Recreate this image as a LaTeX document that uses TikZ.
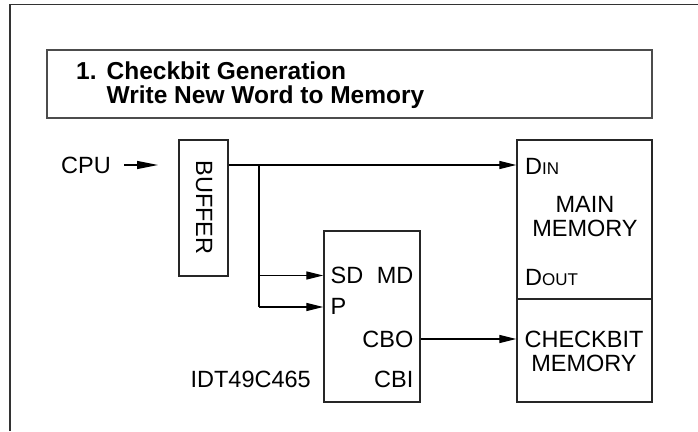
\documentclass[tikz,border=0pt]{standalone}
\usepackage{fontspec}
\setmainfont{Liberation Sans}
\usetikzlibrary{arrows.meta}
\begin{document}
\begin{tikzpicture}[x=1pt,y=-1pt,
  box/.style={draw=black!85,line width=1.3pt,inner sep=0pt},
  lbl/.style={inner sep=0pt,font=\fontsize{23.5}{24}\selectfont},
  conn/.style={line width=1.2pt,-{Triangle[length=17pt,width=8pt]}},
  wire/.style={line width=1.2pt}]
\useasboundingbox (0,0) rectangle (698,431);
% outer frame
\draw[line width=1.5pt,black!80] (10,431) -- (10,4.5) -- (698,4.5);
% title box
\node[box,draw=black!70,minimum width=605pt,minimum height=68pt] (title) at (349.5,84) {};
\node[lbl,anchor=west,align=left,font=\bfseries\fontsize{24.5}{24}\selectfont] (titletext) at (76,85)
  {1.\hspace{10pt}Checkbit Generation\\\hphantom{1.\hspace{10pt}}Write New Word to Memory};
% CPU
\node[lbl,anchor=west] (cpu) at (61,165) {CPU};
\coordinate (cputip) at (158,165);
\draw[conn,-{Triangle[length=21pt,width=8pt]}] ([xshift=13pt]cpu.east) -- (cputip);
% buffer
\node[box,minimum width=49pt,minimum height=136pt] (buf) at (203.5,208) {};
\node[lbl,rotate=-90] (buftext) at (204,207.5) {BUFFER};
% main memory
\node[box,minimum width=135pt,minimum height=159pt] (mm) at (584.5,219.5) {};
\node[lbl,anchor=west] (din) at (525,166) {D{\fontsize{17}{18}\selectfont IN}};
\node[lbl,align=center] (mmtext) at (585,217) {MAIN\\MEMORY};
\node[lbl,anchor=west] (dout) at (525,277) {D{\fontsize{17}{18}\selectfont OUT}};
% checkbit memory
\node[box,minimum width=135pt,minimum height=103pt] (cm) at (584.5,350.5) {};
\node[lbl,align=center] (cmtext) at (584,351) {CHECKBIT\\MEMORY};
% IDT
\node[box,minimum width=96pt,minimum height=171pt] (idt) at (372,316.5) {};
\node[lbl,anchor=west] (sd) at (330.5,275) {SD};
\node[lbl,anchor=east] (md) at (413.5,275) {MD};
\node[lbl,anchor=west] (p) at (330.5,306) {P};
\node[lbl,anchor=east] (cbo) at (413.5,339) {CBO};
\node[lbl,anchor=east] (cbi) at (413.5,379) {CBI};
\node[lbl,anchor=east] (idtname) at (311,379) {IDT49C465};
% connectors
\coordinate (br) at (259,165);
\coordinate (brsd) at (259,275.5);
\coordinate (brp) at (259,307);
\draw[conn] (buf.east |- br) -- (mm.west |- br);
\draw[wire] (br) -- (brp);
\draw[conn] (brsd) -- (idt.west |- brsd);
\draw[conn] (brp) -- (idt.west |- brp);
\draw[conn] (idt.east |- cbo) -- (cm.west |- cbo);
\end{tikzpicture}
\end{document}
